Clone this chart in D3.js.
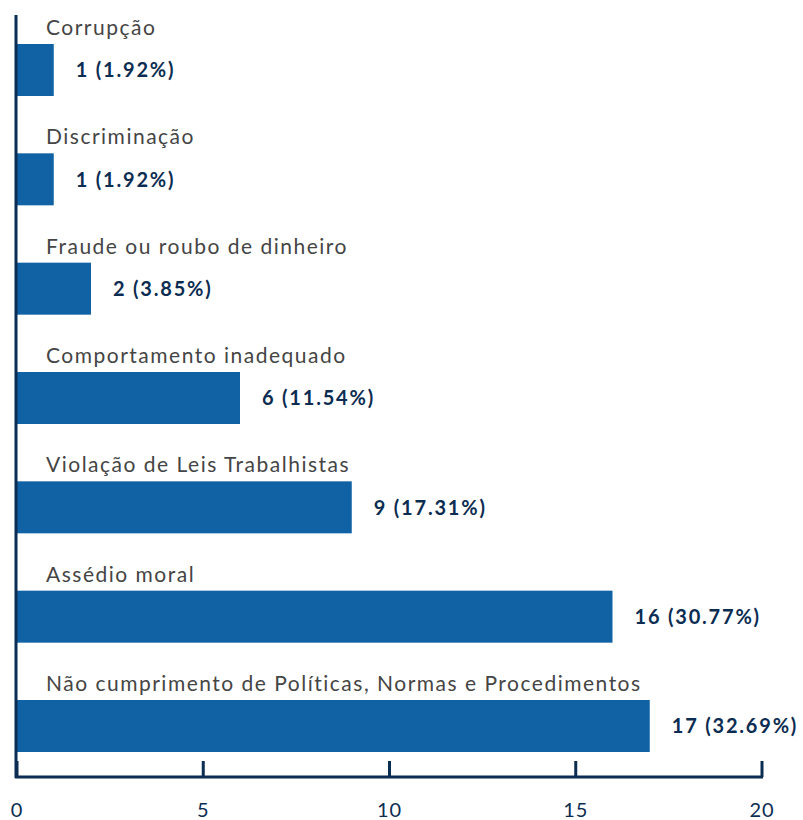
<html>
<head>
  <meta charset="UTF-8">
  <title>Denúncias por categoria</title>
  <script src="https://d3js.org/d3.v7.min.js"></script>
  <style>
    body { margin: 0; background: #fff; }
    text { font-family: Lato, "Noto Sans", sans-serif; }
  </style>
</head>
<body>
  <svg id="chart" width="803" height="820"></svg>
  <script>
    // data
    const categories = [
      "Corrupção",
      "Discriminação",
      "Fraude ou roubo de dinheiro",
      "Comportamento inadequado",
      "Violação de Leis Trabalhistas",
      "Assédio moral",
      "Não cumprimento de Políticas, Normas e Procedimentos"
    ];
    const counts = [1, 1, 2, 6, 9, 16, 17];
    const percents = ["1.92%", "1.92%", "3.85%", "11.54%", "17.31%", "30.77%", "32.69%"];
    const xTicks = [0, 5, 10, 15, 20];

    const data = categories.map((c, i) => ({ cat: c, n: counts[i], pct: percents[i] }));

    const svg = d3.select("#chart");
    const navy = "#0c2d52";
    const barColor = "#1062a5";

    const x = d3.scaleLinear().domain([0, 20]).range([16.5, 761.5]);
    const y = d3.scaleBand().domain(categories).range([44, 752]).paddingInner(0.5244).paddingOuter(0);

    // bars
    svg.selectAll("rect.bar").data(data).join("rect")
      .attr("class", "bar")
      .attr("x", x(0))
      .attr("y", d => y(d.cat))
      .attr("width", d => x(d.n) - x(0))
      .attr("height", y.bandwidth())
      .attr("fill", barColor);

    // category labels
    svg.selectAll("text.cat").data(data).join("text")
      .attr("class", "cat")
      .attr("x", 46)
      .attr("y", d => y(d.cat) - 9)
      .attr("font-size", 21)
      .attr("letter-spacing", "1.5px")
      .attr("fill", "#454545")
      .text(d => d.cat);

    // value labels
    svg.selectAll("text.val").data(data).join("text")
      .attr("class", "val")
      .attr("x", d => x(d.n) + 22)
      .attr("y", d => y(d.cat) + y.bandwidth() / 2)
      .attr("dy", "0.36em")
      .attr("font-size", 20)
      .attr("font-weight", "bold")
      .attr("letter-spacing", "1.8px")
      .attr("fill", navy)
      .text(d => `${d.n} (${d.pct})`);

    // left axis line
    svg.append("line")
      .attr("x1", 16).attr("x2", 16)
      .attr("y1", 15).attr("y2", 778)
      .attr("stroke", navy).attr("stroke-width", 3);

    // bottom axis
    const bottomAxis = d3.axisBottom(x).tickValues(xTicks).tickSize(-16).tickPadding(26).tickSizeOuter(0);
    const gx = svg.append("g").attr("transform", "translate(0,777)").call(bottomAxis);
    gx.select(".domain").attr("stroke", navy).attr("stroke-width", 3).attr("d", `M${x(0) - 1.5},0H${x(20) + 1.5}`);
    gx.selectAll(".tick line").attr("stroke", navy).attr("stroke-width", 3);
    gx.selectAll(".tick text")
      .attr("font-size", 20)
      .attr("letter-spacing", "1px")
      .attr("fill", navy)
      .attr("font-family", "Lato, 'Noto Sans', sans-serif");
  </script>
</body>
</html>
